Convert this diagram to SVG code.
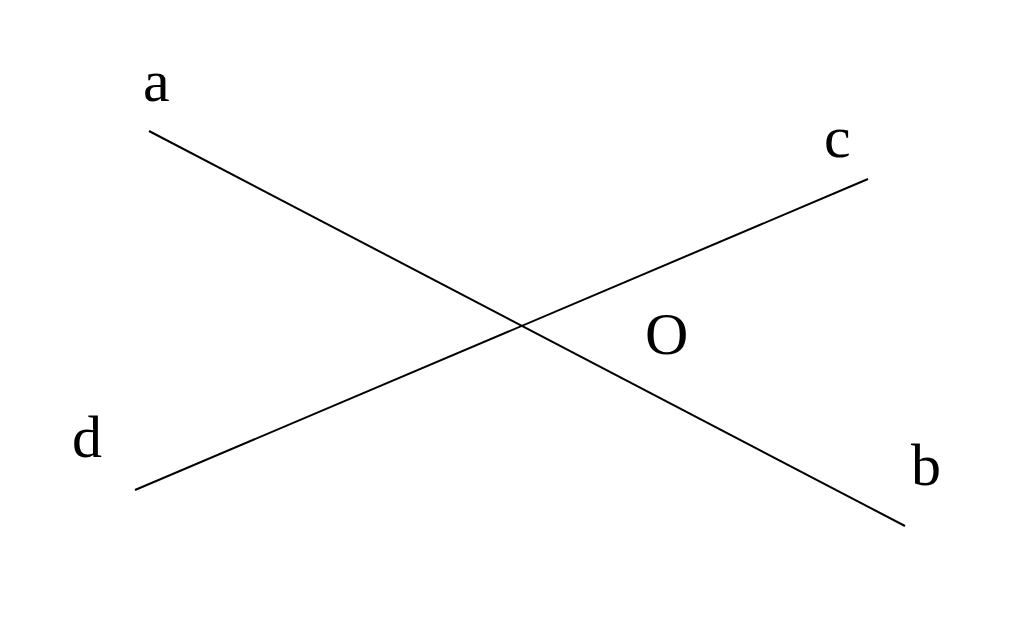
<svg xmlns="http://www.w3.org/2000/svg" width="1024" height="618" viewBox="0 0 1024 618">
<style>
.lbl{font-family:"Liberation Serif","Times New Roman",serif;font-size:60px;fill:#000}
.ln{stroke:#000;stroke-width:2;fill:none}
</style>
<rect width="1024" height="618" fill="#fff"/>
<g id="connectors">
<line class="ln" x1="149" y1="131" x2="905" y2="526"/>
<line class="ln" x1="135" y1="490" x2="868" y2="179"/>
</g>
<g id="label-a"><text class="lbl" x="143" y="101">a</text></g>
<g id="label-c"><text class="lbl" x="824" y="157">c</text></g>
<g id="label-O"><text class="lbl" x="645" y="354">O</text></g>
<g id="label-d"><text class="lbl" x="72" y="457">d</text></g>
<g id="label-b"><text class="lbl" x="911" y="485">b</text></g>
</svg>
